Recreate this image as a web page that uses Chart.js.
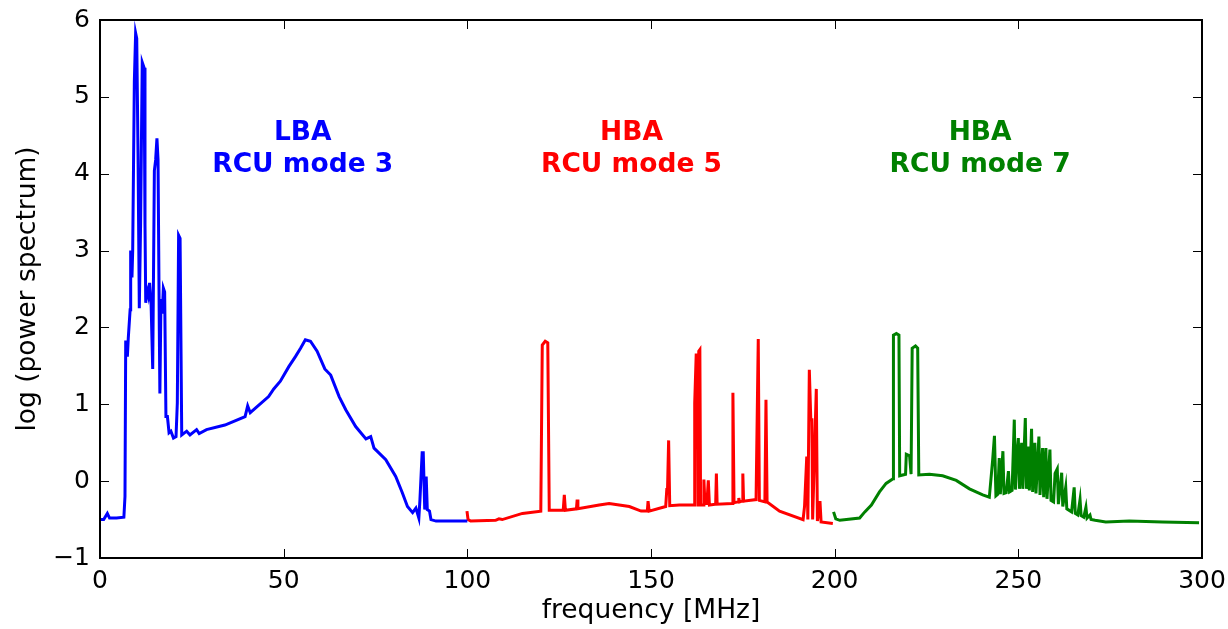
<!DOCTYPE html>
<html>
<head>
<meta charset="utf-8">
<script src="https://cdn.jsdelivr.net/npm/chart.js@4"></script>
<style>
  html, body { margin: 0; padding: 0; background: #fff; }
  #wrap { width: 1228px; height: 629px; }
</style>
</head>
<body>
<div id="wrap"><canvas id="spectrum"></canvas></div>
<script>
// LBA, RCU mode 3 (blue)
const lbaFreq = [0, 1, 2.0, 2.6, 4.5, 6.5, 6.8, 7.0, 7.45, 7.7, 8.2, 8.35, 8.7, 8.9, 9.35, 9.7, 10.0, 10.35, 10.7, 11.05,
  11.5, 12.0, 12.25, 12.45, 12.7, 13.15, 13.5, 13.9, 14.35, 14.8, 15.15, 15.5, 15.8, 16.15, 16.3, 16.6, 16.95, 17.25, 17.6, 17.95,
  18.35, 18.8, 19.3, 20.0, 20.7, 21.05, 21.4, 21.8, 22.25, 23.6, 24.5, 26.3, 27.0, 29.0, 34.0, 39.5, 40.2, 40.9, 45.9, 47.3,
  49.1, 51.4, 53.2, 54.6, 55.9, 57.3, 59.1, 61.2, 62.8, 65.1, 66.9, 69.6, 72.4, 73.7, 74.6, 77.8, 80.5, 82.3, 83.7, 85.1,
  86.0, 86.8, 87.1, 87.7, 88.0, 88.4, 88.8, 89.1, 89.7, 90.1, 91.5, 100];
const lbaPower = [-0.5, -0.5, -0.42, -0.48, -0.48, -0.47, -0.2, 1.83, 1.62, 1.86, 2.23, 3.0, 2.65, 3.0, 5.2, 5.83, 5.76, 4.27, 2.25, 3.34,
  5.45, 5.38, 3.34, 2.32, 2.5, 2.41, 2.58, 2.32, 1.46, 4.04, 4.18, 4.46, 4.18, 1.95, 1.14, 2.37, 2.18, 2.51, 2.46, 0.84,
  0.84, 0.63, 0.65, 0.56, 0.58, 1.02, 3.2, 3.16, 0.6, 0.65, 0.6, 0.67, 0.62, 0.67, 0.73, 0.84, 0.98, 0.89, 1.10, 1.20,
  1.30, 1.49, 1.62, 1.73, 1.84, 1.82, 1.69, 1.46, 1.38, 1.10, 0.93, 0.71, 0.55, 0.58, 0.43, 0.28, 0.06, -0.15, -0.33, -0.41,
  -0.35, -0.48, -0.24, 0.37, 0.37, -0.37, 0.06, -0.37, -0.39, -0.50, -0.52, -0.52];

// HBA, RCU mode 5 (red)
const hbaLowFreq = [99.9, 100.2, 100.9, 107.7, 108.6, 109.5, 115.0, 120.0, 120.4, 121.2, 121.9, 122.3, 126.1, 126.4, 126.7, 129.7,
  129.9, 130.1, 135.9, 138.6, 144.1, 147.3, 149.0, 149.2, 149.5, 154.0, 154.3, 154.5, 154.8, 155.1, 157.7, 161.8, 161.9, 162.3,
  162.6, 162.8, 163.0, 163.3, 163.5, 164.3, 164.4, 164.7, 165.0, 165.2, 165.6, 165.9, 167.6, 167.8, 168.0, 172.1, 172.3, 172.6,
  173.7, 173.9, 174.1, 174.8, 175.0, 175.2, 178.6, 179.2, 179.5, 181.0, 181.3, 181.6, 185.0, 191.4, 191.8, 192.4, 192.7, 193.1,
  193.5, 193.8, 194.0, 195.0, 195.3, 196.0, 196.3, 199.5];
const hbaLowPower = [-0.39, -0.50, -0.52, -0.51, -0.49, -0.50, -0.42, -0.39, 1.77, 1.82, 1.80, -0.38, -0.38, -0.18, -0.38, -0.36,
  -0.24, -0.36, -0.31, -0.29, -0.33, -0.39, -0.39, -0.26, -0.39, -0.33, -0.11, -0.11, 0.53, -0.32, -0.31, -0.31, 1.02, 1.64,
  1.64, -0.31, 1.69, 1.71, -0.31, -0.31, 0.02, -0.31, -0.16, -0.31, 0.01, -0.31, -0.30, 0.10, -0.30, -0.29, 1.15, -0.28,
  -0.27, -0.22, -0.27, -0.26, 0.10, -0.26, -0.24, 1.85, -0.25, -0.27, 1.06, -0.27, -0.39, -0.50, -0.33, 0.32, -0.50, 1.45,
  0.80, 0.80, -0.50, 1.20, -0.52, -0.26, -0.53, -0.55];

// HBA, RCU mode 7 (green)
const hbaHighFreq = [199.7, 200.3, 201.4, 206.8, 208.2, 210.0, 212.2, 214.0, 215.9, 216.0, 216.8, 217.5, 217.7, 219.3, 219.5, 220.4,
  220.8, 221.1, 222.0, 222.6, 222.9, 225.8, 229.4, 233.1, 236.7, 240.3, 242.1, 243.0, 243.5, 243.9, 244.4, 244.8, 245.1, 245.8,
  246.1, 246.7, 247.3, 247.6, 248.3, 248.9, 249.2, 249.6, 250.0, 250.3, 250.9, 251.2, 251.9, 252.2, 252.7, 253.0, 253.6, 253.9,
  254.5, 254.8, 255.6, 255.9, 256.6, 256.9, 257.5, 257.8, 258.6, 258.9, 259.6, 260.0, 260.6, 260.9, 261.8, 262.1, 262.9, 263.2,
  264.5, 265.2, 265.5, 266.2, 266.8, 267.1, 267.8, 268.4, 268.7, 269.5, 269.8, 270.9, 273.8, 280.2, 289.2, 299.2];
const hbaHighPower = [-0.40, -0.49, -0.51, -0.48, -0.40, -0.31, -0.14, -0.03, 0.03, 1.90, 1.92, 1.90, 0.07, 0.09, 0.35, 0.33,
  0.09, 1.73, 1.76, 1.73, 0.08, 0.09, 0.07, 0.01, -0.10, -0.18, -0.21, 0.27, 0.59, -0.19, -0.17, 0.30, -0.17, 0.39,
  -0.16, -0.15, 0.13, -0.14, -0.12, 0.80, -0.11, 0.35, 0.56, -0.10, 0.50, -0.10, 0.82, -0.10, 0.45, -0.12, 0.68, -0.14,
  0.50, -0.16, 0.58, -0.18, 0.43, -0.21, 0.43, -0.23, 0.41, -0.25, -0.27, 0.10, 0.16, -0.30, 0.11, -0.33, -0.08, -0.36,
  -0.40, -0.08, -0.42, -0.44, -0.24, -0.45, -0.47, -0.34, -0.48, -0.44, -0.50, -0.51, -0.53, -0.52, -0.53, -0.54];

const xTicks = [0, 50, 100, 150, 200, 250, 300];
const yTicks = [-1, 0, 1, 2, 3, 4, 5, 6];

const bandLabels = [
  { lines: ["LBA", "RCU mode 3"], x: 55.2, y: [4.53, 4.11], color: "#0000ff" },
  { lines: ["HBA", "RCU mode 5"], x: 144.7, y: [4.53, 4.11], color: "#ff0000" },
  { lines: ["HBA", "RCU mode 7"], x: 239.6, y: [4.53, 4.11], color: "#008000" }
];

function toPoints(xs, ys) {
  return xs.map((x, i) => ({ x: x, y: ys[i] }));
}

const fontFamily = "'DejaVu Sans', sans-serif";

// inward tick marks on all four sides, frame and band labels
const framePlugin = {
  id: "frame",
  afterDatasetsDraw(chart) {
    const ctx = chart.ctx;
    const a = chart.chartArea;
    const xs = chart.scales.x;
    const ys = chart.scales.y;
    ctx.save();
    ctx.strokeStyle = "#000";
    ctx.lineWidth = 1;
    ctx.beginPath();
    xTicks.forEach(v => {
      const px = Math.round(xs.getPixelForValue(v)) + 0.5;
      ctx.moveTo(px, a.bottom); ctx.lineTo(px, a.bottom - 9);
      ctx.moveTo(px, a.top); ctx.lineTo(px, a.top + 9);
    });
    yTicks.forEach(v => {
      const py = Math.round(ys.getPixelForValue(v)) + 0.5;
      ctx.moveTo(a.left, py); ctx.lineTo(a.left + 9, py);
      ctx.moveTo(a.right, py); ctx.lineTo(a.right - 9, py);
    });
    ctx.stroke();
    ctx.lineWidth = 2;
    ctx.strokeRect(a.left, a.top, a.right - a.left, a.bottom - a.top);

    ctx.font = "bold 26.5px " + fontFamily;
    ctx.textAlign = "center";
    ctx.textBaseline = "middle";
    bandLabels.forEach(b => {
      ctx.fillStyle = b.color;
      b.lines.forEach((t, i) => {
        ctx.fillText(t, xs.getPixelForValue(b.x), ys.getPixelForValue(b.y[i]));
      });
    });
    ctx.restore();
  }
};

new Chart("spectrum", {
  type: "scatter",
  data: {
    datasets: [
      { data: toPoints(lbaFreq, lbaPower), borderColor: "#0000ff" },
      { data: toPoints(hbaLowFreq, hbaLowPower), borderColor: "#ff0000" },
      { data: toPoints(hbaHighFreq, hbaHighPower), borderColor: "#008000" }
    ].map(d => Object.assign(d, {
      showLine: true,
      pointRadius: 0,
      borderWidth: 3,
      tension: 0,
      fill: false
    }))
  },
  options: {
    responsive: true,
    maintainAspectRatio: false,
    animation: false,
    layout: { padding: { left: 12, right: 26, top: 20, bottom: 2 } },
    plugins: {
      legend: { display: false },
      tooltip: { enabled: false }
    },
    scales: {
      x: {
        type: "linear",
        min: 0,
        max: 300,
        afterBuildTicks: s => { s.ticks = xTicks.map(v => ({ value: v })); },
        afterFit: s => { s.height = 69; s.paddingLeft = 0; s.paddingRight = 0; },
        grid: { display: false, drawTicks: false },
        border: { display: false },
        ticks: {
          color: "#000",
          padding: 8,
          maxRotation: 0,
          font: { family: fontFamily, size: 25 }
        },
        title: {
          display: true,
          text: "frequency [MHz]",
          color: "#000",
          padding: { top: 0, bottom: 0 },
          font: { family: fontFamily, size: 26.5 }
        }
      },
      y: {
        type: "linear",
        min: -1,
        max: 6,
        afterBuildTicks: s => { s.ticks = yTicks.map(v => ({ value: v })); },
        afterFit: s => { s.width = 88; s.paddingTop = 0; s.paddingBottom = 0; },
        grid: { display: false, drawTicks: false },
        border: { display: false },
        ticks: {
          color: "#000",
          padding: 10,
          font: { family: fontFamily, size: 25 },
          callback: v => String(v).replace("-", "\u2212")
        },
        title: {
          display: true,
          text: "log (power spectrum)",
          color: "#000",
          padding: { top: 0, bottom: 0 },
          font: { family: fontFamily, size: 26.5 }
        }
      }
    }
  },
  plugins: [framePlugin]
});
</script>
</body>
</html>
